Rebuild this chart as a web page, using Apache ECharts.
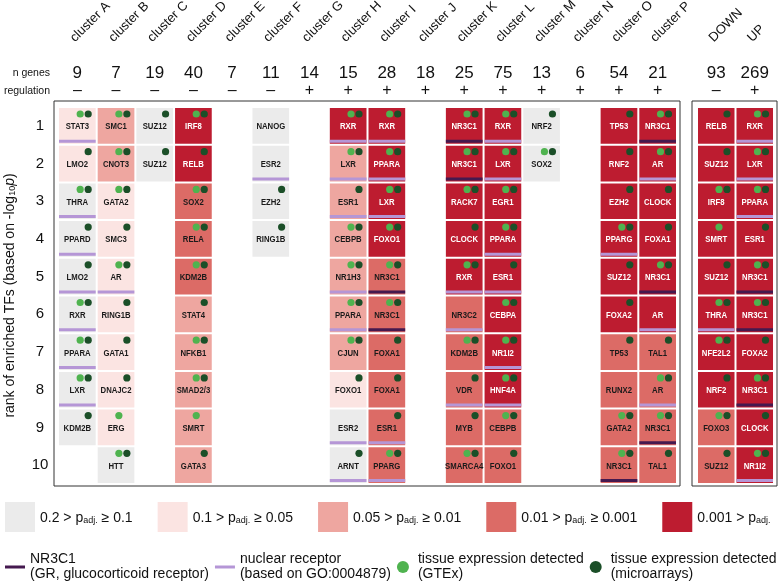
<!DOCTYPE html>
<html>
<head>
<meta charset="utf-8">
<script src="https://cdn.jsdelivr.net/npm/echarts@6/dist/echarts.min.js"></script>
<style>
html, body { margin: 0; background: #fff; }
#chart { width: 778px; height: 582px; }
</style>
</head>
<body>
<div id="chart"></div>
<script>
// 列头
var clusters = ['cluster A', 'cluster B', 'cluster C', 'cluster D', 'cluster E', 'cluster F', 'cluster G', 'cluster H',
    'cluster I', 'cluster J', 'cluster K', 'cluster L', 'cluster M', 'cluster N', 'cluster O', 'cluster P'];
var nGenes = ['9', '7', '19', '40', '7', '11', '14', '15', '28', '18', '25', '75', '13', '6', '54', '21'];
var regulation = ['–', '–', '–', '–', '–', '–', '+', '+', '+', '+', '+', '+', '+', '+', '+', '+'];
var overall = ['DOWN', 'UP'];
var overallGenes = ['93', '269'];
var overallReg = ['–', '+'];
var ranks = ['1', '2', '3', '4', '5', '6', '7', '8', '9', '10'];

// enriched TFs per cluster, rank 1..10
var tfNames = [
    ['STAT3', 'LMO2', 'THRA', 'PPARD', 'LMO2', 'RXR', 'PPARA', 'LXR', 'KDM2B'],
    ['SMC1', 'CNOT3', 'GATA2', 'SMC3', 'AR', 'RING1B', 'GATA1', 'DNAJC2', 'ERG', 'HTT'],
    ['SUZ12', 'SUZ12'],
    ['IRF8', 'RELB', 'SOX2', 'RELA', 'KDM2B', 'STAT4', 'NFKB1', 'SMAD2/3', 'SMRT', 'GATA3'],
    [],
    ['NANOG', 'ESR2', 'EZH2', 'RING1B'],
    [],
    ['RXR', 'LXR', 'ESR1', 'CEBPB', 'NR1H3', 'PPARA', 'CJUN', 'FOXO1', 'ESR2', 'ARNT'],
    ['RXR', 'PPARA', 'LXR', 'FOXO1', 'NR3C1', 'NR3C1', 'FOXA1', 'FOXA1', 'ESR1', 'PPARG'],
    [],
    ['NR3C1', 'NR3C1', 'RACK7', 'CLOCK', 'RXR', 'NR3C2', 'KDM2B', 'VDR', 'MYB', 'SMARCA4'],
    ['RXR', 'LXR', 'EGR1', 'PPARA', 'ESR1', 'CEBPA', 'NR1I2', 'HNF4A', 'CEBPB', 'FOXO1'],
    ['NRF2', 'SOX2'],
    [],
    ['TP53', 'RNF2', 'EZH2', 'PPARG', 'SUZ12', 'FOXA2', 'TP53', 'RUNX2', 'GATA2', 'NR3C1'],
    ['NR3C1', 'AR', 'CLOCK', 'FOXA1', 'NR3C1', 'AR', 'TAL1', 'AR', 'NR3C1', 'TAL1']
];
// p adj. class: 0 = 0.2>p>=0.1 ... 4 = 0.001>p
var tfLevels = [
    [1, 1, 0, 0, 0, 0, 0, 0, 0],
    [2, 2, 1, 1, 1, 1, 1, 1, 1, 0],
    [0, 0],
    [4, 4, 3, 3, 3, 2, 2, 2, 2, 2],
    [],
    [0, 0, 0, 0],
    [],
    [4, 2, 2, 2, 2, 2, 2, 1, 0, 0],
    [4, 4, 4, 4, 3, 3, 3, 3, 3, 3],
    [],
    [4, 4, 4, 4, 4, 3, 3, 3, 3, 3],
    [4, 4, 4, 4, 4, 4, 4, 4, 3, 3],
    [0, 0],
    [],
    [4, 4, 4, 4, 4, 4, 3, 3, 3, 3],
    [4, 4, 4, 4, 4, 4, 3, 3, 3, 3]
];
// tissue expression: b = both, g = GTEx only, m = microarrays only
var tfExpr = [
    ['b', 'm', 'b', 'm', 'm', 'b', 'b', 'b', 'm'],
    ['b', 'b', 'b', 'm', 'b', 'm', 'm', 'm', 'g', 'b'],
    ['m', 'm'],
    ['b', 'm', 'b', 'b', 'b', 'm', 'b', 'b', 'g', 'm'],
    [],
    ['', '', 'm', 'm'],
    [],
    ['b', 'b', 'm', 'b', 'b', 'b', 'b', 'm', '', 'm'],
    ['b', 'b', 'b', 'b', 'b', 'b', 'm', 'm', 'm', 'b'],
    [],
    ['b', 'b', 'b', 'm', 'b', '', 'b', 'm', 'm', 'b'],
    ['b', 'b', 'b', 'b', 'm', 'b', 'b', 'b', 'b', 'm'],
    ['m', 'b'],
    [],
    ['m', 'm', 'm', 'b', 'm', 'm', 'm', '', 'b', 'b'],
    ['b', 'b', 'm', 'm', 'b', '', 'm', 'b', 'b', 'm']
];
// gr = NR3C1, nr = nuclear receptor
var tfReceptor = [
    ['nr', '', 'nr', 'nr', 'nr', 'nr', 'nr', 'nr', ''],
    ['', '', '', '', 'nr', '', '', '', '', ''],
    ['', ''],
    ['', '', '', '', '', '', '', '', '', ''],
    [],
    ['', 'nr', '', ''],
    [],
    ['nr', 'nr', 'nr', '', 'nr', 'nr', '', '', 'nr', 'nr'],
    ['nr', 'nr', 'nr', '', 'gr', 'gr', '', '', 'nr', 'nr'],
    [],
    ['gr', 'gr', '', '', 'nr', 'nr', '', 'nr', '', ''],
    ['nr', 'nr', '', 'nr', 'nr', '', 'nr', 'nr', '', ''],
    ['', ''],
    [],
    ['', '', '', 'nr', '', '', '', '', '', 'gr'],
    ['gr', 'nr', '', '', 'gr', 'nr', '', 'nr', 'gr', '']
];

var overallNames = [
    ['RELB', 'SUZ12', 'IRF8', 'SMRT', 'SUZ12', 'THRA', 'NFE2L2', 'NRF2', 'FOXO3', 'SUZ12'],
    ['RXR', 'LXR', 'PPARA', 'ESR1', 'NR3C1', 'NR3C1', 'FOXA2', 'NR3C1', 'CLOCK', 'NR1I2']
];
var overallLevels = [
    [4, 4, 4, 4, 4, 4, 4, 4, 3, 3],
    [4, 4, 4, 4, 4, 4, 4, 4, 4, 4]
];
var overallExpr = [
    ['m', 'm', 'b', 'g', 'm', 'b', 'b', 'm', 'b', 'm'],
    ['b', 'b', 'b', 'm', 'b', 'b', 'm', 'b', 'm', 'b']
];
var overallReceptor = [
    ['', '', '', '', '', 'nr', '', '', '', ''],
    ['nr', 'nr', 'nr', '', 'gr', 'gr', '', 'gr', '', 'nr']
];

// 图例文字
var levelNames = ['0.2 > padj. ≥ 0.1', '0.1 > padj. ≥ 0.05', '0.05 > padj. ≥ 0.01', '0.01 > padj. ≥ 0.001', '0.001 > padj.'];
var levelText = [['0.2 >', '≥ 0.1'], ['0.1 >', '≥ 0.05'], ['0.05 >', '≥ 0.01'], ['0.01 >', '≥ 0.001'], ['0.001 >', '']];
var markerNames = ['NR3C1', 'nuclear receptor', 'GTEx', 'microarrays'];
var markerText = ['NR3C1\n(GR, glucocorticoid receptor)', 'nuclear receptor\n(based on GO:0004879)',
    'tissue expression detected\n(GTEx)', 'tissue expression detected\n(microarrays)'];

var levelColors = ['#ebebeb', '#fbe4e2', '#eea6a0', '#dc6b66', '#bd1c30'];
var darkPurple = '#45194f';
var lightPurple = '#b596d6';
var lightGreen = '#4fb34f';
var darkGreen = '#1b4f28';

var chart = echarts.init(document.getElementById('chart'));

function collect(names, levels, expr, receptor) {
    var cells = [];
    names.forEach(function (col, c) {
        col.forEach(function (name, r) {
            cells.push({ col: c, row: r, name: name, level: levels[c][r], expr: expr[c][r], rec: receptor[c][r] });
        });
    });
    return cells;
}
var mainCells = collect(tfNames, tfLevels, tfExpr, tfReceptor);
var overallCells = collect(overallNames, overallLevels, overallExpr, overallReceptor);

function cellBox(api) {
    var p = api.coord([api.value(0), api.value(1)]);
    var s = api.size([1, 1]);
    return { x: p[0] - s[0] / 2 + 1, y: p[1] - s[1] / 2 + 1, w: s[0] - 2, h: s[1] - 2 };
}

function buildSeries(cells, xi, yi) {
    var out = [];
    // 格子
    levelColors.forEach(function (color, lv) {
        var sub = cells.filter(function (c) { return c.level === lv; });
        out.push({
            type: 'custom', name: levelNames[lv], xAxisIndex: xi, yAxisIndex: yi,
            itemStyle: { color: color }, z: 2,
            data: sub.map(function (c) { return [c.col, c.row]; }),
            renderItem: function (params, api) {
                var b = cellBox(api);
                var cell = sub[params.dataIndex];
                return {
                    type: 'group',
                    children: [
                        { type: 'rect', shape: { x: b.x, y: b.y, width: b.w, height: b.h }, style: { fill: color } },
                        {
                            type: 'text', x: b.x + b.w / 2, y: b.y + b.h / 2 + 1, scaleX: 0.86,
                            style: {
                                text: cell.name, fill: lv === 4 ? '#fff' : '#1a1a1a',
                                align: 'center', verticalAlign: 'middle',
                                fontSize: 9, fontWeight: 'bold', fontFamily: '"Liberation Sans", Arial, sans-serif'
                            }
                        }
                    ]
                };
            }
        });
    });
    // 受体标记线
    [['gr', 0, darkPurple], ['nr', 1, lightPurple]].forEach(function (m) {
        var sub = cells.filter(function (c) { return c.rec === m[0]; });
        out.push({
            type: 'custom', name: markerNames[m[1]], xAxisIndex: xi, yAxisIndex: yi,
            itemStyle: { color: m[2] }, z: 3,
            data: sub.map(function (c) { return [c.col, c.row]; }),
            renderItem: function (params, api) {
                var b = cellBox(api);
                return { type: 'rect', shape: { x: b.x, y: b.y + b.h - 4, width: b.w, height: 3 }, style: { fill: m[2] } };
            }
        });
    });
    // 表达圆点
    [['g', 2, lightGreen, 15.5], ['m', 3, darkGreen, 7.5]].forEach(function (m) {
        var sub = cells.filter(function (c) { return c.expr === m[0] || c.expr === 'b'; });
        out.push({
            type: 'custom', name: markerNames[m[1]], xAxisIndex: xi, yAxisIndex: yi,
            itemStyle: { color: m[2] }, z: 3,
            data: sub.map(function (c) { return [c.col, c.row]; }),
            renderItem: function (params, api) {
                var b = cellBox(api);
                return { type: 'circle', shape: { cx: b.x + b.w - m[3], cy: b.y + 6, r: 3.6 }, style: { fill: m[2] } };
            }
        });
    });
    return out;
}

function headerAxes(gridIndex, names, genes, reg, withNames) {
    var hidden = { axisLine: { show: false }, axisTick: { show: false }, splitLine: { show: false } };
    return [
        Object.assign({
            gridIndex: gridIndex, type: 'category', data: names, position: 'top',
            axisLabel: { rotate: -45, margin: 72, padding: [0, 0, 0, -7], fontSize: 13, color: '#111', interval: 0 }
        }, hidden),
        Object.assign({
            gridIndex: gridIndex, type: 'category', data: genes, position: 'top', offset: 34,
            axisLabel: { margin: 0, verticalAlign: 'middle', fontSize: 17, color: '#111', interval: 0 },
            name: withNames ? 'n genes' : '', nameLocation: 'start', nameGap: 8,
            nameTextStyle: { fontSize: 10.5, color: '#111', verticalAlign: 'middle' }
        }, hidden),
        Object.assign({
            gridIndex: gridIndex, type: 'category', data: reg, position: 'top', offset: 16,
            axisLabel: { margin: 0, verticalAlign: 'middle', fontSize: 16, color: '#111', interval: 0 },
            name: withNames ? 'regulation' : '', nameLocation: 'start', nameGap: 8,
            nameTextStyle: { fontSize: 10.5, color: '#111', verticalAlign: 'middle' }
        }, hidden)
    ];
}

var frameAxis = function (g) { return { gridIndex: g, type: 'value', show: false, min: 0, max: 1 }; };

var option = {
    animation: false,
    textStyle: { fontFamily: '"Liberation Sans", Arial, sans-serif' },
    grid: [
        { left: 58, top: 107, width: 619, height: 377, outerBoundsMode: 'none' },
        { left: 697, top: 107, width: 77, height: 377, outerBoundsMode: 'none' },
        { left: 54, top: 101, width: 626, height: 385, outerBoundsMode: 'none', show: true, borderColor: '#333', borderWidth: 1, backgroundColor: 'transparent' },
        { left: 692, top: 101, width: 85, height: 385, outerBoundsMode: 'none', show: true, borderColor: '#333', borderWidth: 1, backgroundColor: 'transparent' }
    ],
    xAxis: headerAxes(0, clusters, nGenes, regulation, true)
        .concat(headerAxes(1, overall, overallGenes, overallReg, false))
        .concat([frameAxis(2), frameAxis(3)]),
    yAxis: [
        {
            gridIndex: 0, type: 'category', data: ranks, inverse: true,
            axisLine: { show: false }, axisTick: { show: false }, splitLine: { show: false },
            axisLabel: { fontSize: 15, color: '#111', margin: 18, align: 'center' },
            name: '{t|rank of enriched TFs (based on -log}{s|10}{i|p}{t|)}',
            nameLocation: 'middle', nameRotate: 90, nameGap: 41,
            nameTextStyle: {
                color: '#111',
                rich: {
                    t: { fontSize: 14, lineHeight: 16, verticalAlign: 'bottom' },
                    s: { fontSize: 9, lineHeight: 7, verticalAlign: 'bottom' },
                    i: { fontSize: 14, lineHeight: 16, fontStyle: 'italic', verticalAlign: 'bottom' }
                }
            }
        },
        {
            gridIndex: 1, type: 'category', data: ranks, inverse: true,
            axisLine: { show: false }, axisTick: { show: false }, splitLine: { show: false }, axisLabel: { show: false }
        },
        frameAxis(2), frameAxis(3)
    ],
    legend: [
        {
            data: levelNames, left: 0, top: 497, icon: 'rect', itemWidth: 30, itemHeight: 30, itemGap: 25,
            selectedMode: false,
            formatter: function (name) {
                var t = levelText[levelNames.indexOf(name)];
                return '{t|' + t[0] + ' p}{s|adj.}' + (t[1] ? '{t| ' + t[1] + '}' : '');
            },
            textStyle: {
                color: '#111',
                rich: {
                    t: { fontSize: 14, lineHeight: 16, verticalAlign: 'bottom' },
                    s: { fontSize: 9, lineHeight: 7, verticalAlign: 'bottom' }
                }
            }
        },
        {
            data: [
                { name: markerNames[0], icon: 'path://M0,0H20V3H0Z' },
                { name: markerNames[1], icon: 'path://M0,0H20V3H0Z' },
                { name: markerNames[2], icon: 'circle' },
                { name: markerNames[3], icon: 'circle' }
            ],
            left: 0, top: 547, width: 900, itemWidth: 20, itemHeight: 12, itemGap: 6, selectedMode: false,
            formatter: function (name) { return markerText[markerNames.indexOf(name)]; },
            textStyle: { color: '#111', fontSize: 14, lineHeight: 15 }
        }
    ],
    series: buildSeries(mainCells, 0, 0).concat(buildSeries(overallCells, 3, 1))
};

chart.setOption(option);
window.addEventListener('resize', function () {
    chart.resize();
});
</script>
</body>
</html>
